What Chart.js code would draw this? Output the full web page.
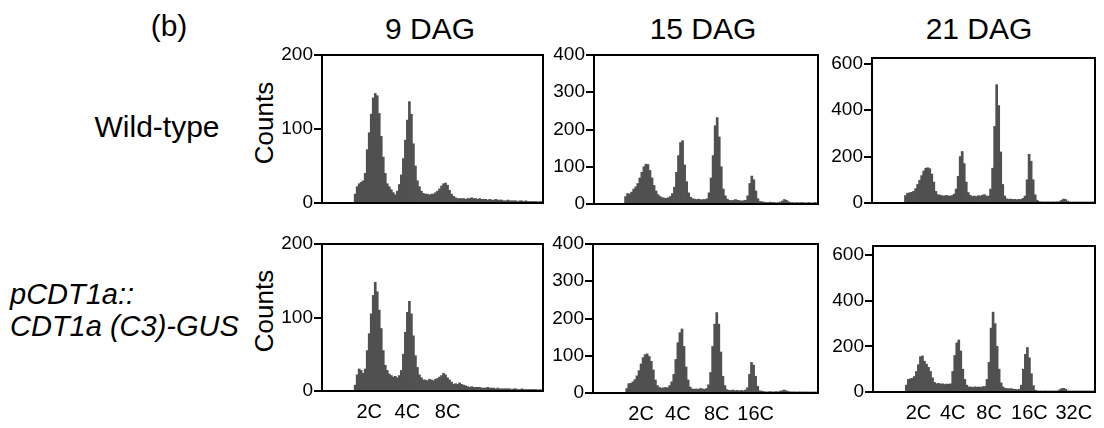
<!DOCTYPE html>
<html>
<head>
    <title>Ploidy histograms</title>
    <script src="https://cdn.jsdelivr.net/npm/chart.js@4.4.1/dist/chart.umd.min.js"></script>
    <style>
        body { margin: 0; background: #fff; width: 1104px; height: 428px; position: relative; overflow: hidden;
               font-family: "Liberation Sans", Arial, Helvetica, sans-serif; color: #000; }
        .txt { position: absolute; white-space: nowrap; line-height: 1; }
        .mid { transform: translateX(-50%); }
        .counts { font-size: 26px; transform: translate(-50%, -50%) rotate(-90deg); }
        canvas { position: absolute; }
    </style>
</head>
<body>
    <div class="txt mid" style="left:169px; top:11px; font-size:30px">(b)</div>
    <div class="txt mid" style="left:430px; top:14px; font-size:30px">9 DAG</div>
    <div class="txt mid" style="left:703px; top:14px; font-size:30px">15 DAG</div>
    <div class="txt mid" style="left:979px; top:14px; font-size:30px">21 DAG</div>
    <div class="txt mid" style="left:157px; top:112px; font-size:30px">Wild-type</div>
    <div class="txt" style="left:10px; top:278px; font-size:29px; line-height:32px; font-style:italic">pCDT1a::<br>CDT1a (C3)-GUS</div>
    <div class="txt counts" style="left:264px; top:123px">Counts</div>
    <div class="txt counts" style="left:264px; top:311px">Counts</div>

    <canvas id="wt9" width="285" height="176" style="left:272px; top:41px"></canvas>
    <canvas id="wt15" width="288" height="177" style="left:544px; top:41px"></canvas>
    <canvas id="wt21" width="281" height="173" style="left:822px; top:44px"></canvas>
    <canvas id="mut9" width="285" height="199" style="left:272px; top:230px"></canvas>
    <canvas id="mut15" width="289" height="201" style="left:543px; top:230px"></canvas>
    <canvas id="mut21" width="280" height="198" style="left:823px; top:232px"></canvas>

    <script>
        // counts per channel bin (110 bins across each plot)
        const wt9Counts = [
            0, 0, 0, 0, 0, 0, 0, 0, 0, 0,
            0, 0, 0, 0, 0, 0, 12, 22, 26, 28,
            30, 40, 72, 95, 120, 142, 148, 145, 121, 90,
            62, 40, 26, 22, 18, 14, 11, 16, 25, 38,
            60, 85, 112, 137, 120, 80, 50, 30, 22, 16,
            13, 12, 12, 11, 12, 12, 14, 16, 19, 23,
            26, 27, 24, 17, 12, 9, 7, 6, 6, 6,
            6, 5, 6, 6, 7, 6, 6, 5, 6, 5,
            5, 5, 4, 5, 4, 4, 5, 4, 4, 4,
            3, 3, 4, 3, 3, 3, 3, 2, 3, 3,
            2, 3, 2, 2, 2, 2, 2, 1, 2, 2
        ];
        const wt15Counts = [
            0, 0, 0, 0, 0, 0, 0, 0, 0, 0,
            0, 0, 0, 0, 0, 20, 28, 27, 32, 40,
            46, 55, 70, 85, 100, 107, 106, 90, 70, 50,
            35, 25, 20, 17, 16, 15, 17, 20, 28, 45,
            85, 130, 165, 170, 105, 60, 30, 18, 14, 13,
            12, 13, 11, 12, 12, 14, 30, 70, 130, 210,
            232, 180, 100, 40, 22, 13, 10, 9, 10, 12,
            10, 9, 8, 9, 10, 22, 55, 75, 65, 35,
            14, 7, 6, 5, 4, 4, 5, 4, 4, 3,
            4, 5, 8, 12, 10, 6, 4, 4, 3, 4,
            3, 4, 4, 3, 3, 4, 3, 3, 4, 3
        ];
        const wt21Counts = [
            0, 0, 0, 0, 0, 0, 0, 0, 0, 0,
            0, 0, 0, 0, 0, 0, 32, 42, 44, 46,
            50, 62, 80, 98, 118, 138, 150, 152, 148, 125,
            90, 50, 36, 34, 32, 30, 33, 31, 30, 32,
            38, 60, 115, 200, 222, 170, 90, 45, 33, 28,
            30, 28, 32, 30, 34, 36, 30, 30, 60, 150,
            330, 510, 420, 220, 80, 30, 18, 16, 17, 15,
            16, 14, 16, 15, 20, 30, 100, 210, 180, 100,
            35, 12, 6, 5, 5, 4, 5, 5, 4, 5,
            4, 5, 6, 12, 17, 15, 8, 4, 4, 4,
            3, 4, 4, 3, 4, 3, 3, 3, 3, 3
        ];
        const mut9Counts = [
            0, 0, 0, 0, 0, 0, 0, 0, 0, 0,
            0, 0, 0, 0, 0, 0, 8, 22, 30, 28,
            24, 30, 55, 78, 105, 130, 148, 135, 110, 85,
            55, 35, 28, 23, 21, 19, 20, 18, 21, 28,
            50, 80, 107, 122, 105, 75, 48, 32, 22, 18,
            15, 15, 14, 16, 15, 14, 16, 17, 19, 21,
            24, 22, 18, 15, 12, 9, 10, 9, 11, 9,
            8, 7, 6, 5, 6, 5, 5, 5, 5, 4,
            4, 4, 5, 4, 4, 4, 3, 4, 3, 3,
            3, 3, 3, 3, 2, 3, 3, 2, 2, 3,
            2, 2, 2, 2, 2, 2, 2, 1, 2, 1
        ];
        const mut15Counts = [
            0, 0, 0, 0, 0, 0, 0, 0, 0, 0,
            0, 0, 0, 0, 0, 0, 12, 25, 26, 30,
            36, 46, 60, 78, 95, 103, 105, 98, 85, 62,
            35, 20, 15, 13, 14, 15, 14, 20, 30, 50,
            90, 135, 162, 172, 125, 70, 35, 16, 11, 10,
            11, 10, 12, 11, 10, 12, 22, 55, 125, 185,
            216, 185, 110, 45, 20, 9, 7, 7, 8, 6,
            7, 6, 7, 6, 8, 14, 50, 82, 75, 45,
            18, 6, 5, 4, 3, 3, 4, 3, 3, 4,
            3, 5, 6, 8, 6, 4, 3, 3, 3, 2,
            3, 3, 2, 3, 2, 2, 2, 2, 2, 2
        ];
        const mut21Counts = [
            0, 0, 0, 0, 0, 0, 0, 0, 0, 0,
            0, 0, 0, 0, 0, 0, 30, 55, 58, 60,
            68, 90, 120, 155, 158, 135, 122, 108, 90, 62,
            42, 36, 38, 35, 36, 33, 35, 34, 36, 90,
            160, 215, 228, 180, 100, 55, 30, 22, 22, 20,
            23, 21, 22, 20, 24, 24, 55, 130, 280, 350,
            300, 200, 100, 40, 22, 16, 15, 14, 15, 12,
            12, 10, 12, 30, 100, 165, 195, 150, 80, 28,
            8, 5, 4, 4, 4, 5, 4, 4, 3, 4,
            4, 5, 10, 15, 16, 12, 5, 3, 3, 3,
            3, 3, 2, 3, 3, 2, 3, 2, 2, 2
        ];

        // y axis tick values per column
        const yTicks9 = [0, 100, 200];
        const yTicks15 = [0, 100, 200, 300, 400];
        const yTicks21 = [0, 200, 400, 600];

        // ploidy tick labels and the bin they sit under
        const ticks9 = ['2C', '4C', '8C'];
        const ticks9Bins = [23, 42, 62];
        const ticks15 = ['2C', '4C', '8C', '16C'];
        const ticks15Bins = [23, 41, 60, 79];
        const ticks21 = ['2C', '4C', '8C', '16C', '32C'];
        const ticks21Bins = [22, 39, 57, 77, 99];

        Chart.defaults.font.family = "'Liberation Sans', Arial, Helvetica, sans-serif";
        Chart.defaults.color = '#000';

        const frame = {
            id: 'frame',
            afterDatasetsDraw(chart) {
                const { ctx, chartArea: a } = chart;
                ctx.save();
                ctx.strokeStyle = '#000';
                ctx.lineWidth = 2;
                ctx.strokeRect(a.left, a.top, a.right - a.left, a.bottom - a.top);
                ctx.restore();
            }
        };

        function histogram(id, counts, yMax, yTicks, padRight, bottomRow, tickText, tickBins) {
            const channels = counts.map((c, i) => i);
            return new Chart(document.getElementById(id), {
                type: 'bar',
                data: {
                    labels: channels,
                    datasets: [{
                        data: counts,
                        backgroundColor: '#505050',
                        borderWidth: 0,
                        categoryPercentage: 1,
                        barPercentage: 1
                    }]
                },
                options: {
                    responsive: false,
                    animation: false,
                    events: [],
                    layout: { padding: { top: 14, right: padRight, bottom: bottomRow ? 4 : 14, left: 0 } },
                    plugins: { legend: { display: false }, tooltip: { enabled: false } },
                    scales: {
                        x: {
                            grid: { display: false },
                            border: { display: false },
                            ticks: {
                                display: bottomRow,
                                autoSkip: false,
                                maxRotation: 0,
                                padding: 1,
                                font: { size: 20 },
                                callback: (v, i) => {
                                    const k = tickBins ? tickBins.indexOf(i) : -1;
                                    return k < 0 ? '' : tickText[k];
                                }
                            },
                            afterFit: s => { s.height = bottomRow ? 34 : 0; }
                        },
                        y: {
                            min: 0,
                            max: yMax,
                            grid: { drawOnChartArea: false, drawTicks: true, tickLength: 8, color: '#000', lineWidth: 2 },
                            border: { display: false },
                            ticks: { padding: 1, font: { size: 19 } },
                            afterBuildTicks: s => { s.ticks = yTicks.map(v => ({ value: v })); },
                            afterFit: s => { s.width = 50; }
                        }
                    }
                },
                plugins: [frame]
            });
        }

        histogram('wt9', wt9Counts, 200, yTicks9, 14, false);
        histogram('wt15', wt15Counts, 400, yTicks15, 14, false);
        histogram('wt21', wt21Counts, 625, yTicks21, 8, false);
        histogram('mut9', mut9Counts, 200, yTicks9, 14, true, ticks9, ticks9Bins);
        histogram('mut15', mut15Counts, 400, yTicks15, 14, true, ticks15, ticks15Bins);
        histogram('mut21', mut21Counts, 640, yTicks21, 8, true, ticks21, ticks21Bins);
    </script>
</body>
</html>
